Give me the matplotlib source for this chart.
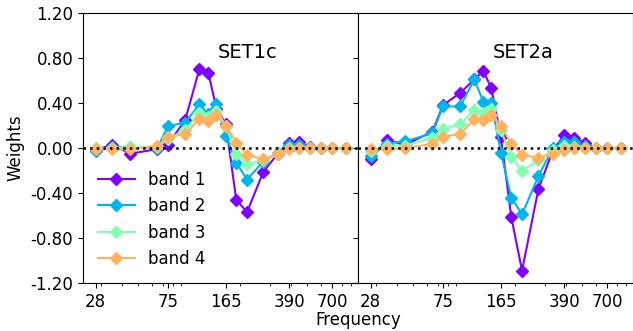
import matplotlib
matplotlib.use("Agg")
import matplotlib.pyplot as plt
import numpy as np

freqs = [28, 35, 45, 65, 75, 95, 115, 130, 145, 165, 190, 220, 275, 335, 390, 445, 515, 600, 700, 840]
xticks = [28, 75, 165, 390, 700]
yticks = [-1.2, -0.8, -0.4, 0.0, 0.4, 0.8, 1.2]
labels = ["band 1", "band 2", "band 3", "band 4"]
panel_titles = ["SET1c", "SET2a"]

set1c_band1 = [-0.02, 0.03, -0.05, -0.01, 0.03, 0.25, 0.70, 0.67, 0.35, 0.21, -0.46, -0.57, -0.21, -0.05, 0.045, 0.05, 0.01, 0.0, 0.0, 0.0]
set1c_band2 = [-0.03, 0.01, 0.01, 0.0, 0.195, 0.225, 0.39, 0.30, 0.39, 0.11, -0.13, -0.28, -0.12, -0.04, 0.03, 0.03, 0.0, 0.0, 0.0, 0.0]
set1c_band3 = [0.0, 0.0, 0.01, 0.01, 0.08, 0.16, 0.31, 0.28, 0.33, 0.20, -0.05, -0.14, -0.11, -0.05, 0.0, 0.0, 0.0, 0.0, 0.0, 0.0]
set1c_band4 = [-0.01, -0.01, -0.01, 0.02, 0.095, 0.125, 0.26, 0.24, 0.29, 0.20, 0.045, -0.06, -0.10, -0.05, -0.01, 0.0, 0.0, 0.0, 0.0, 0.0]

set2a_band1 = [-0.10, 0.07, 0.03, 0.145, 0.38, 0.49, 0.61, 0.685, 0.53, 0.10, -0.61, -1.09, -0.365, -0.02, 0.115, 0.09, 0.045, 0.0, 0.0, 0.0]
set2a_band2 = [-0.07, 0.04, 0.06, 0.13, 0.37, 0.37, 0.61, 0.41, 0.40, -0.04, -0.44, -0.59, -0.25, 0.0, 0.055, 0.05, 0.02, 0.0, 0.0, 0.0]
set2a_band3 = [-0.03, 0.02, 0.02, 0.09, 0.17, 0.21, 0.34, 0.31, 0.35, 0.16, -0.08, -0.205, -0.11, -0.02, 0.02, 0.01, 0.0, 0.0, 0.0, 0.0]
set2a_band4 = [-0.01, -0.01, 0.0, 0.035, 0.10, 0.125, 0.26, 0.25, 0.29, 0.195, 0.04, -0.06, -0.09, -0.05, -0.02, 0.0, 0.0, 0.0, 0.0, 0.0]

panels = [
    [set1c_band1, set1c_band2, set1c_band3, set1c_band4],
    [set2a_band1, set2a_band2, set2a_band3, set2a_band4],
]

colors = plt.cm.rainbow([0.0, 0.25, 0.5, 0.75])

fig = plt.figure(figsize=(6.33, 3.31), dpi=100)
left, right, bottom, top = 83 / 633, 1.0, (331 - 283) / 331, (331 - 13) / 331
w = (right - left) / 2
axes = []
for i in range(2):
    if i == 0:
        ax = fig.add_axes([left + i * w, bottom, w, top - bottom])
    else:
        ax = fig.add_axes([left + i * w, bottom, w, top - bottom], sharey=axes[0])
    axes.append(ax)

for i, ax in enumerate(axes):
    for series, c, lab in zip(panels[i], colors, labels):
        ax.plot(freqs, series, color=c, marker="D", markersize=6.5, lw=1.5, label=lab)
    ax.axhline(0, color="black", ls=":", lw=1.8)
    ax.set_xscale("log")
    ax.set_xticks(xticks)
    ax.set_xticklabels([str(t) for t in xticks])
    ax.tick_params(labelsize=12)
    ax.text(0.6, 0.855, panel_titles[i], transform=ax.transAxes, ha="center", va="center", fontsize=14)

axes[0].set_ylim(-1.2, 1.2)
axes[0].set_yticks(yticks)
axes[0].set_yticklabels(["%.2f" % v for v in yticks])
axes[0].set_ylabel("Weights", fontsize=12)
axes[1].tick_params(labelleft=False)
axes[0].legend(loc="lower left", frameon=False, fontsize=12, handlelength=2.2)

fig.text(left + w, 0.033, "Frequency", ha="center", va="center", fontsize=12)

fig.savefig("out.png", dpi=100)
